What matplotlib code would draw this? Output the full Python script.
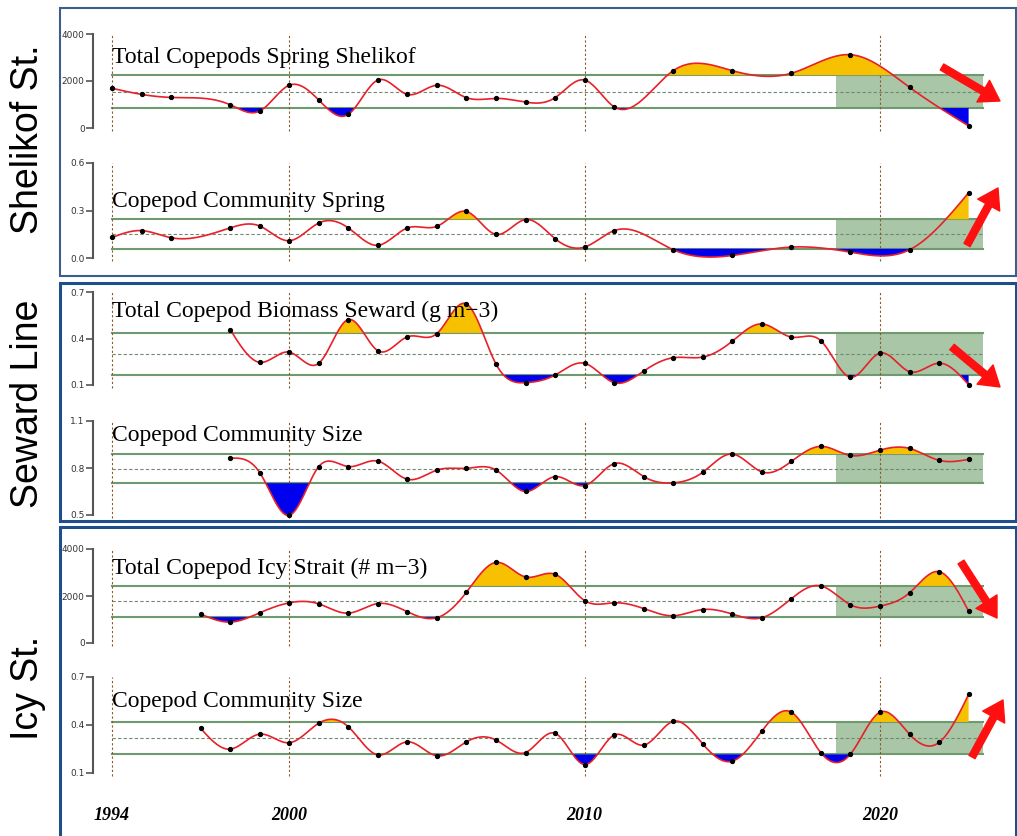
import numpy as np
import matplotlib
matplotlib.use("Agg")
import matplotlib.pyplot as plt
from matplotlib.patches import Rectangle

# ---- data ----
years_p1 = [1994, 1995, 1996, 1998, 1999, 2000, 2001, 2002, 2003, 2004, 2005, 2006,
            2007, 2008, 2009, 2010, 2011, 2013, 2015, 2017, 2019, 2021, 2023]
shelikof_total = [1690, 1430, 1300, 990, 720, 1820, 1190, 580, 2040, 1430, 1820, 1290,
                  1260, 1100, 1290, 2040, 900, 2440, 2440, 2330, 3120, 1730, 90]
shelikof_comm = [0.130, 0.173, 0.128, 0.190, 0.202, 0.109, 0.221, 0.190, 0.080, 0.190,
                 0.200, 0.294, 0.149, 0.243, 0.122, 0.069, 0.173, 0.052, 0.016, 0.069,
                 0.037, 0.052, 0.412]

years_sew = list(range(1998, 2024))
seward_biomass = [0.458, 0.246, 0.312, 0.240, 0.522, 0.321, 0.411, 0.432, 0.623, 0.235,
                  0.115, 0.164, 0.240, 0.115, 0.190, 0.276, 0.280, 0.383, 0.494, 0.409,
                  0.385, 0.150, 0.306, 0.186, 0.241, 0.102]
seward_size = [0.863, 0.771, 0.498, 0.809, 0.809, 0.844, 0.728, 0.787, 0.798, 0.787,
               0.650, 0.745, 0.688, 0.828, 0.745, 0.705, 0.773, 0.889, 0.775, 0.842,
               0.938, 0.880, 0.914, 0.925, 0.849, 0.855]

years_icy = list(range(1997, 2024))
icy_total = [1230, 890, 1285, 1710, 1665, 1270, 1680, 1330, 1075, 2160, 3430, 2810,
             2925, 1805, 1710, 1465, 1160, 1425, 1230, 1075, 1890, 2430, 1625, 1570,
             2135, 3035, 1355]
icy_size = [0.379, 0.249, 0.343, 0.289, 0.411, 0.389, 0.213, 0.295, 0.207, 0.295,
            0.306, 0.228, 0.348, 0.153, 0.337, 0.274, 0.423, 0.281, 0.174, 0.362,
            0.480, 0.226, 0.218, 0.480, 0.342, 0.291, 0.591]

titles = ["Total Copepods Spring Shelikof", "Copepod Community Spring",
          "Total Copepod Biomass Seward (g m\u22123)", "Copepod Community Size",
          "Total Copepod Icy Strait (# m\u22123)", "Copepod Community Size"]
# mean and upper/lower (±1 sd) reference lines
means = [1540, 0.151, 0.299, 0.796, 1780, 0.316]
uppers = [2250, 0.245, 0.436, 0.889, 2430, 0.419]
lowers = [850, 0.058, 0.164, 0.703, 1100, 0.216]
yticks = [[0, 2000, 4000], [0.0, 0.3, 0.6], [0.1, 0.4, 0.7],
          [0.5, 0.8, 1.1], [0, 2000, 4000], [0.1, 0.4, 0.7]]
ytick_labels = [["0", "2000", "4000"], ["0.0", "0.3", "0.6"], ["0.1", "0.4", "0.7"],
                ["0.5", "0.8", "1.1"], ["0", "2000", "4000"], ["0.1", "0.4", "0.7"]]

series = [(years_p1, shelikof_total), (years_p1, shelikof_comm),
          (years_sew, seward_biomass), (years_sew, seward_size),
          (years_icy, icy_total), (years_icy, icy_size)]


def spline(x, y, n=600):
    # natural cubic spline through the points, for drawing the smooth line
    x = np.asarray(x, float)
    y = np.asarray(y, float)
    m = len(x)
    h = np.diff(x)
    A = np.zeros((m, m))
    b = np.zeros(m)
    A[0, 0] = A[-1, -1] = 1
    for i in range(1, m - 1):
        A[i, i - 1] = h[i - 1]
        A[i, i] = 2 * (h[i - 1] + h[i])
        A[i, i + 1] = h[i]
        b[i] = 3 * ((y[i + 1] - y[i]) / h[i] - (y[i] - y[i - 1]) / h[i - 1])
    c = np.linalg.solve(A, b)
    xs = np.linspace(x[0], x[-1], n)
    idx = np.clip(np.searchsorted(x, xs) - 1, 0, m - 2)
    dx = xs - x[idx]
    bc = (y[1:] - y[:-1]) / h - h * (2 * c[:-1] + c[1:]) / 3
    d = (c[1:] - c[:-1]) / (3 * h)
    ys = y[idx] + bc[idx] * dx + c[idx] * dx ** 2 + d[idx] * dx ** 3
    return xs, ys


W, H = 1017, 836
fig = plt.figure(figsize=(W / 100, H / 100), dpi=100)
fig.patch.set_facecolor("white")

# panel pixel extents (top tick, bottom tick)
panel_px = [(34, 128), (163, 258), (292, 385), (421, 515), (549, 643), (677, 773)]
ax_left, ax_right = 93, 1010
px_per_year = (880 - 112) / 26.0
xlim = (1994 - (112 - ax_left) / px_per_year, 1994 + (ax_right - 112) / px_per_year)

gold = "#f7c000"
blue = "#0000ee"
green_fill = "#a9c6a7"
green_line = "#6f9a6f"

for k in range(6):
    top, bot = panel_px[k]
    ax = fig.add_axes([ax_left / W, 1 - bot / H, (ax_right - ax_left) / W, (bot - top) / H])
    ax.set_facecolor("none")
    ax.set_xlim(*xlim)
    ax.set_ylim(yticks[k][0], yticks[k][-1])
    for s in ["top", "right", "bottom"]:
        ax.spines[s].set_visible(False)
    ax.spines["left"].set_color("#555555")
    ax.spines["left"].set_linewidth(1.5)
    ax.set_xticks([])
    ax.set_yticks(yticks[k])
    ax.set_yticklabels(ytick_labels[k], fontsize=6.5, color="#333333")
    ax.tick_params(axis="y", length=5, width=1.2, color="#555555", pad=1)

    lo, hi, mu = lowers[k], uppers[k], means[k]
    ax.add_patch(Rectangle((2018.5, lo), 5, hi - lo, color=green_fill, lw=0, zorder=1))
    ax.plot([1994, 2023.5], [hi, hi], color=green_line, lw=1.5, zorder=2)
    ax.plot([1994, 2023.5], [lo, lo], color=green_line, lw=1.5, zorder=2)
    ax.plot([1994, 2023.5], [mu, mu], color="#6f8a6f", lw=0.8, ls=(0, (3, 2)), zorder=2)

    for yr in [1994, 2000, 2010, 2020]:
        ax.axvline(yr, ymin=-0.03, ymax=1.0, color="#8b5a2b", lw=0.8, ls=(0, (2, 2)),
                   clip_on=False, zorder=2)

    yrs, vals = series[k]
    xs, ys = spline(yrs, vals)
    ax.fill_between(xs, ys, hi, where=ys > hi, interpolate=True, color=gold, lw=0, zorder=3)
    ax.fill_between(xs, ys, lo, where=ys < lo, interpolate=True, color=blue, lw=0, zorder=3)
    ax.plot(xs, ys, color="#e8202a", lw=1.2, zorder=4, clip_on=False)
    ax.plot(yrs, vals, "o", color="black", ms=2.8, zorder=5, clip_on=False)

# panel titles
title_y = [57, 201, 311, 435, 568, 702]
for k in range(6):
    fig.text(112 / W, 1 - title_y[k] / H, titles[k], family="Liberation Serif",
             fontsize=17, ha="left", va="center")

# x labels
for yr in [1994, 2000, 2010, 2020]:
    xp = 112 + (yr - 1994) * px_per_year
    fig.text(xp / W, 1 - 815 / H, str(yr), family="Liberation Serif", style="italic",
             weight="bold", fontsize=13, ha="center", va="center")

# region labels
for label, yc in [("Shelikof St.", 139), ("Seward Line", 404), ("Icy St.", 688)]:
    fig.text(28 / W, 1 - yc / H, label, family="Liberation Sans", fontsize=27,
             rotation=90, ha="center", va="center")

# frames round each region
for (t, b, ec, lw) in [(8, 276, "#3a5f8f", 1.5), (283, 521, "#1f4e8c", 2.2),
                       (527, 840, "#1f4e8c", 2.2)]:
    fig.add_artist(Rectangle((60 / W, 1 - b / H), (1016 - 60) / W, (b - t) / H,
                             transform=fig.transFigure, fill=False, ec=ec, lw=lw))

# trend arrows (tail, tip) in pixels from top-left
arrows = [((942, 67), (1000, 101)), ((967, 245), (998, 188)), ((952, 347), (1000, 387)),
          ((961, 562), (997, 618)), ((972, 757), (1003, 700))]
for (tx, ty), (hx, hy) in arrows:
    fig.add_artist(matplotlib.text.Annotation(
        "", xy=(hx, H - hy), xytext=(tx, H - ty), xycoords="figure pixels",
        textcoords="figure pixels",
        arrowprops=dict(facecolor="#ff1010", edgecolor="#ff1010", width=5,
                        headwidth=18, headlength=14, shrink=0)))

fig.savefig("out.png", dpi=100)
